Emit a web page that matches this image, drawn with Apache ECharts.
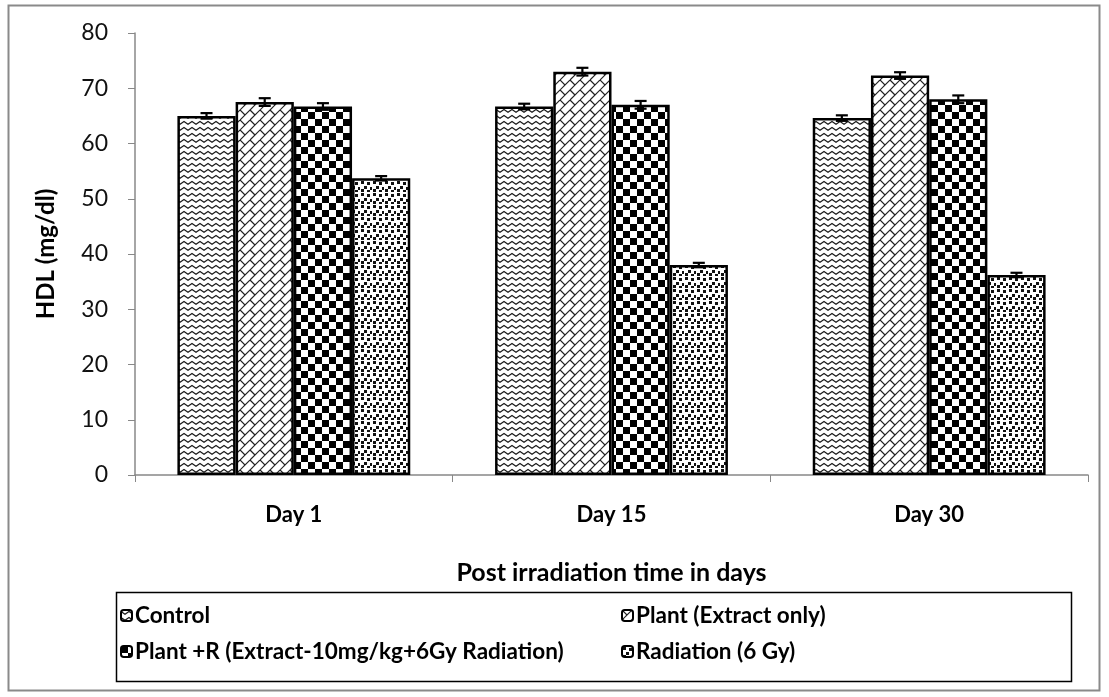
<!DOCTYPE html>
<html>
<head>
<meta charset="utf-8">
<script src="https://cdn.jsdelivr.net/npm/echarts@6/dist/echarts.min.js"></script>
<style>
  html, body { margin: 0; padding: 0; background: #fff; }
  #chart { width: 1109px; height: 697px; }
</style>
</head>
<body>
<div id="chart"></div>
<script>
// data
const days = ['Day 1', 'Day 15', 'Day 30'];
const groups = ['Control', 'Plant (Extract only)', 'Plant +R (Extract-10mg/kg+6Gy Radiation)', 'Radiation (6 Gy)'];
const control = [65.0, 66.7, 64.6];
const plant = [67.5, 73.0, 72.3];
const plantR = [66.7, 67.0, 68.0];
const radiation = [53.7, 38.0, 36.2];
const controlErr = [0.5, 0.5, 0.5];
const plantErr = [0.7, 0.7, 0.6];
const plantRErr = [0.6, 0.7, 0.7];
const radiationErr = [0.4, 0.4, 0.4];
const yTicks = [0, 80, 10]; // min, max, interval

const FONT = 'Lato';
const GAP = 0.267;

// ---- fill patterns (drawn on small canvases) ----
function tile(w, h, draw) {
  const c = document.createElement('canvas');
  c.width = w; c.height = h;
  const ctx = c.getContext('2d');
  ctx.fillStyle = '#fff';
  ctx.fillRect(0, 0, w, h);
  draw(ctx);
  return { image: c, repeat: 'repeat' };
}

// wavy zigzag rows
const zig = tile(8, 6, (ctx) => {
  ctx.strokeStyle = '#1a1a1a';
  ctx.lineWidth = 1.1;
  for (let r = -1; r <= 1; r++) {
    const y = 1.5 + r * 6;
    ctx.beginPath();
    ctx.moveTo(-4, y + 2.8);
    ctx.lineTo(0, y);
    ctx.lineTo(4, y + 2.8);
    ctx.lineTo(8, y);
    ctx.lineTo(12, y + 2.8);
    ctx.stroke();
  }
});

// diagonal bricks
const brick = tile(20, 20, (ctx) => {
  ctx.strokeStyle = '#222';
  ctx.lineWidth = 1.2;
  for (let k = -2; k <= 6; k++) {
    const s = 10 * k;
    ctx.beginPath();
    ctx.moveTo(s + 20, -20);
    ctx.lineTo(s - 20, 20);
    ctx.stroke();
  }
  for (let k = -3; k <= 6; k++) {
    const off = (((k % 2) + 2) % 2) * 10;
    for (let m = -3; m <= 3; m++) {
      const d = 20 * m + off;
      const s0 = 10 * k, s1 = 10 * (k + 1);
      ctx.beginPath();
      ctx.moveTo((s0 + d) / 2, (s0 - d) / 2);
      ctx.lineTo((s1 + d) / 2, (s1 - d) / 2);
      ctx.stroke();
    }
  }
});

const checker = tile(14, 14, (ctx) => {
  ctx.fillStyle = '#000';
  ctx.fillRect(0, 0, 7, 7);
  ctx.fillRect(7, 7, 7, 7);
});

const dots = tile(12, 12, (ctx) => {
  ctx.fillStyle = '#111';
  const pts = [[1, 1], [7, 2], [4, 6], [10, 7], [1, 9], [7, 10]];
  pts.forEach(p => ctx.fillRect(p[0], p[1], 3, 3));
});

const fills = [zig, brick, checker, dots];
const values = [control, plant, plantR, radiation];
const errors = [controlErr, plantErr, plantRErr, radiationErr];

const chart = echarts.init(document.getElementById('chart'));

const barSeries = groups.map((name, i) => ({
  name: name,
  type: 'bar',
  data: values[i],
  barGap: '0%',
  barCategoryGap: (GAP * 100) + '%',
  itemStyle: { color: fills[i], borderColor: '#000', borderWidth: 2.5 },
  emphasis: { disabled: true }
}));

// error bars drawn over the grouped bars
const errSeries = groups.map((name, i) => ({
  type: 'custom',
  name: name + ' err',
  z: 5,
  data: values[i].map((v, j) => [j, v, errors[i][j]]),
  renderItem: function (params, api) {
    const cat = api.value(0), v = api.value(1), e = api.value(2);
    const band = api.size([1, 0])[0];
    const bw = band * (1 - GAP) / 4;
    const c = api.coord([cat, v]);
    const x = c[0] - 2 * bw + bw * (i + 0.5);
    const yHi = api.coord([cat, v + e])[1];
    const yLo = api.coord([cat, v - e])[1];
    const half = 6;
    const style = { stroke: '#000', lineWidth: 2.2 };
    return {
      type: 'group',
      children: [
        { type: 'line', shape: { x1: x, y1: yHi, x2: x, y2: yLo }, style: style },
        { type: 'line', shape: { x1: x - half, y1: yHi, x2: x + half, y2: yHi }, style: style },
        { type: 'line', shape: { x1: x - half, y1: yLo, x2: x + half, y2: yLo }, style: style }
      ]
    };
  }
}));

function legendAt(name, left, top) {
  return {
    data: [name],
    left: left,
    top: top,
    itemWidth: 11,
    itemHeight: 11,
    itemGap: 0,
    padding: 0,
    selectedMode: false,
    textStyle: { fontFamily: FONT, fontWeight: 'bold', fontSize: 22.5, color: '#000', padding: [0, 0, 0, -2] }
  };
}

chart.setOption({
  animation: false,
  backgroundColor: '#fff',
  grid: { left: 135, right: 21, top: 33, bottom: 222, containLabel: false },
  legend: [
    legendAt(groups[0], 120, 604),
    legendAt(groups[1], 621, 604),
    legendAt(groups[2], 120, 640),
    legendAt(groups[3], 621, 640)
  ],
  graphic: [
    { type: 'rect', shape: { x: 8.5, y: 5.5, width: 1091, height: 685 }, style: { fill: 'none', stroke: '#8a8a8a', lineWidth: 2 }, z: -1 },
    { type: 'rect', shape: { x: 116.5, y: 592.5, width: 955, height: 89 }, style: { fill: 'none', stroke: '#000', lineWidth: 1.5 } }
  ],
  xAxis: {
    type: 'category',
    data: days,
    name: 'Post irradiation time in days',
    nameLocation: 'middle',
    nameGap: 85,
    nameMoveOverlap: false,
    nameTextStyle: { fontFamily: FONT, fontWeight: 'bold', fontSize: 25, color: '#000' },
    axisLine: { lineStyle: { color: '#888', width: 1.5 } },
    axisTick: { show: true, length: 7, lineStyle: { color: '#888' } },
    axisLabel: { margin: 29, fontFamily: FONT, fontWeight: 'bold', fontSize: 22, color: '#000' }
  },
  yAxis: {
    type: 'value',
    min: yTicks[0],
    max: yTicks[1],
    interval: yTicks[2],
    name: 'HDL (mg/dl)',
    nameLocation: 'middle',
    nameRotate: 90,
    nameGap: 77,
    nameMoveOverlap: false,
    nameTextStyle: { fontFamily: FONT, fontWeight: 'bold', fontSize: 24, color: '#000' },
    axisLine: { show: true, lineStyle: { color: '#888', width: 1.5 } },
    axisTick: { show: true, length: 7, lineStyle: { color: '#888' } },
    splitLine: { show: false },
    axisLabel: { margin: 27, fontFamily: FONT, fontSize: 23, color: '#111' }
  },
  series: barSeries.concat(errSeries)
});
</script>
</body>
</html>
